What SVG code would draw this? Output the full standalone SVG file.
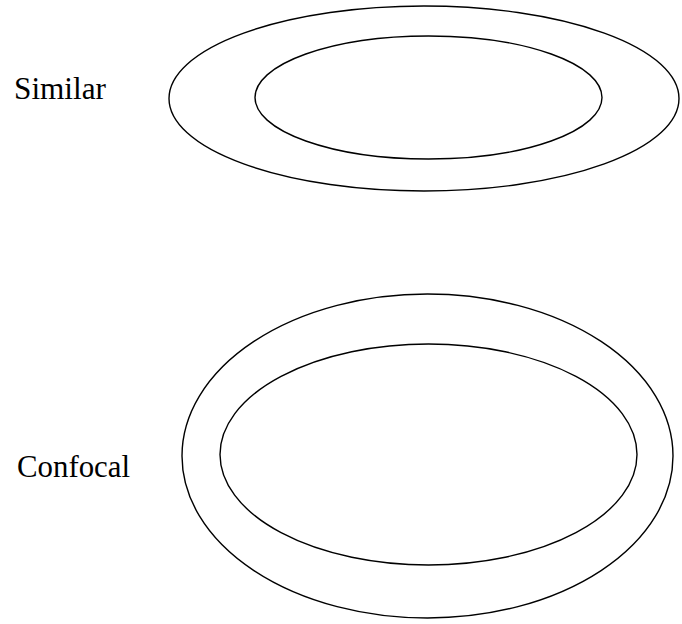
<svg xmlns="http://www.w3.org/2000/svg" width="682" height="624" viewBox="0 0 682 624">
  <style>
    .curve { fill: none; stroke: #000; stroke-width: 1.4; }
    .label { font-family: "Liberation Serif", "Times New Roman", serif; font-size: 32px; fill: #000; }
  </style>
  <rect width="682" height="624" fill="#fff"/>
  <!-- similar ellipses: same shape, scaled -->
  <g id="similar">
    <text class="label" x="14" y="99" textLength="92" lengthAdjust="spacingAndGlyphs">Similar</text>
    <ellipse class="curve" cx="424" cy="98.5" rx="255" ry="92.5"/>
    <ellipse class="curve" cx="428.5" cy="97.5" rx="173.5" ry="61.5"/>
  </g>
  <!-- confocal ellipses: shared foci -->
  <g id="confocal">
    <text class="label" x="17" y="477" textLength="113" lengthAdjust="spacingAndGlyphs">Confocal</text>
    <ellipse class="curve" cx="427.5" cy="456" rx="245.5" ry="162"/>
    <ellipse class="curve" cx="428.5" cy="454.5" rx="208.5" ry="110.5"/>
  </g>
</svg>
